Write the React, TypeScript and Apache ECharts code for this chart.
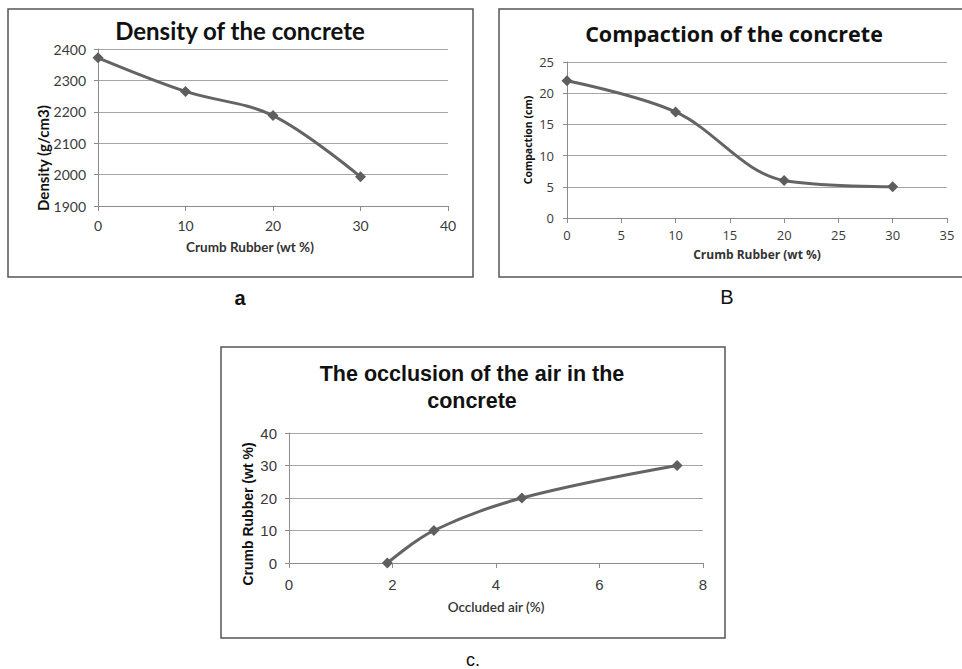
import React, { useEffect, useRef } from "react";
import * as echarts from "echarts";

// Panel a: density vs crumb rubber
const densityX = [0, 10, 20, 30];
const densityY = [2372, 2265, 2188, 1993];
// Panel B: compaction vs crumb rubber
const compactionX = [0, 10, 20, 30];
const compactionY = [22, 17, 6, 5];
// Panel c: crumb rubber vs occluded air
const occludedAir = [1.9, 2.8, 4.5, 7.5];
const crumbRubber = [0, 10, 20, 30];

const titles = ["Density of the concrete", "Compaction of the concrete", "The occlusion of the air in the\nconcrete"];
const yNames = ["Density (g/cm3)", "Compaction (cm)", "Crumb Rubber (wt %)"];
const xNames = ["Crumb Rubber (wt %)", "Crumb Rubber (wt %)", "Occluded air (%)"];
const panelLetters = ["a", "B", "c."];

const LINE = "#646464";
const GRIDC = "#a6a6a6";
const AXC = "#8c8c8c";

export default function App() {
  const ref = useRef<HTMLDivElement>(null);
  useEffect(() => {
    const chart = echarts.init(ref.current!, null, { renderer: "svg" });
    const pair = (xs: number[], ys: number[]) => xs.map((x, i) => [x, ys[i]]);
    const plain = (v: number) => String(v);
    const mkX = (gi: number, min: number, max: number, interval: number, font: string, size: number, margin: number) => ({
      type: "value", gridIndex: gi, min, max, interval,
      axisLine: { show: true, lineStyle: { color: AXC, width: 1 } },
      axisTick: { show: true, length: 5, lineStyle: { color: AXC } },
      splitLine: { show: false },
      axisLabel: { fontFamily: font, fontSize: size, color: "#3a3a3a", margin, formatter: plain },
    });
    const mkY = (gi: number, min: number, max: number, interval: number, font: string, size: number, margin: number) => ({
      type: "value", gridIndex: gi, min, max, interval,
      axisLine: { show: true, lineStyle: { color: AXC, width: 1 } },
      axisTick: { show: true, length: 4, lineStyle: { color: AXC } },
      splitLine: { show: true, lineStyle: { color: GRIDC, width: 1 } },
      axisLabel: { fontFamily: font, fontSize: size, color: "#3a3a3a", margin, formatter: plain },
    });
    const mkS = (gi: number, data: number[][]) => ({
      type: "line", xAxisIndex: gi, yAxisIndex: gi, data, smooth: 0.35,
      symbol: "diamond", symbolSize: 11,
      lineStyle: { color: LINE, width: 3 },
      itemStyle: { color: "#5e5e5e" },
    });
    const box = (x: number, y: number, w: number, h: number) => ({
      type: "rect", shape: { x, y, width: w, height: h },
      style: { fill: "none", stroke: "#555", lineWidth: 1.5 }, z: 0,
    });
    const txt = (x: number, y: number, text: string, font: string, rotation = 0, fill = "#111") => ({
      type: "text", x, y, rotation, z: 10,
      style: { text, font, fill, align: "center", verticalAlign: "middle" },
    });
    chart.setOption({
      animation: false,
      backgroundColor: "#fff",
      grid: [
        { left: 98, top: 49, width: 350, height: 157 },
        { left: 567, top: 62, width: 380, height: 156 },
        { left: 289, top: 433, width: 414, height: 130 },
      ],
      xAxis: [
        mkX(0, 0, 40, 10, "Lato", 14, 12),
        mkX(1, 0, 35, 5, "Open Sans", 13, 10),
        mkX(2, 0, 8, 2, "Liberation Sans", 15, 14),
      ],
      yAxis: [
        mkY(0, 1900, 2400, 100, "Lato", 14, 12),
        mkY(1, 0, 25, 5, "Open Sans", 13, 13),
        mkY(2, 0, 40, 10, "Liberation Sans", 15, 12),
      ],
      series: [
        mkS(0, pair(densityX, densityY)),
        mkS(1, pair(compactionX, compactionY)),
        mkS(2, pair(occludedAir, crumbRubber)),
      ],
      graphic: [
        box(8, 9, 465, 268),
        box(499, 9, 480, 268),
        box(221, 347, 504, 291),
        txt(240, 30, titles[0], "bold 24px Lato"),
        txt(734, 33, titles[1], "bold 21.5px 'Open Sans'"),
        { type: "text", x: 472, y: 387, z: 10, style: { text: titles[2], font: "bold 21.5px 'Liberation Sans'", fill: "#111", align: "center", verticalAlign: "middle", lineHeight: 27 } },
        txt(43, 158, yNames[0], "bold 15px Lato", Math.PI / 2),
        txt(528, 140, yNames[1], "bold 10.5px 'Open Sans'", Math.PI / 2),
        txt(248, 514, yNames[2], "bold 14px 'Liberation Sans'", Math.PI / 2),
        txt(250, 247, xNames[0], "bold 13.5px Lato", 0, "#333"),
        txt(757, 254, xNames[1], "bold 12px 'Open Sans'", 0, "#333"),
        txt(496, 607, xNames[2], "600 13.5px Lato", 0, "#333"),
        txt(240, 298, panelLetters[0], "bold 20px 'Liberation Sans'"),
        txt(727, 297, panelLetters[1], "20px 'Liberation Sans'"),
        txt(473, 660, panelLetters[2], "18px 'Liberation Sans'"),
      ],
    });
    return () => chart.dispose();
  }, []);
  return <div ref={ref} style={{ position: "absolute", left: 0, top: 0, width: 962, height: 669, background: "#fff" }} />;
}
